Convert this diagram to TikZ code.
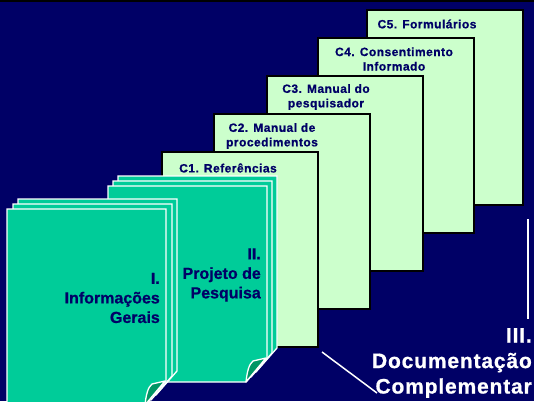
\documentclass[tikz,border=0pt]{standalone}
\usepackage{fontspec}
\setmainfont{Liberation Sans}
\newfontfamily\abold{Liberation Sans Bold}[FakeBold=0.8]
\newfontfamily\aboldsp{Liberation Sans Bold}[FakeBold=0.8,LetterSpace=4]
\definecolor{bgnavy}{RGB}{0,0,102}
\definecolor{lgreen}{RGB}{204,255,204}
\definecolor{tealA}{RGB}{0,204,153}
\definecolor{tealD}{RGB}{0,150,100}
\definecolor{navytext}{RGB}{0,0,102}
\tikzset{
  cbox/.style={draw=black, line width=1.6pt, fill=lgreen, minimum width=156pt,
    minimum height=195pt, anchor=north west, inner sep=0pt, outer sep=0pt},
  ctext/.style={font=\aboldsp\fontsize{12}{14.5}\selectfont, text=navytext, align=center, inner sep=0pt},
  sheet/.style={draw=white, line width=1.3pt, fill=tealA, line join=miter},
  flap/.style={draw=white, line width=1.3pt, fill=tealD, line join=round},
  doctext/.style={font=\abold\fontsize{16}{19.5}\selectfont, text=navytext, align=right, inner sep=0pt, anchor=east},
  bigtext/.style={font=\aboldsp\fontsize{21}{25.5}\selectfont, text=white, align=right, inner sep=0pt, anchor=east},
  wline/.style={draw=white, line width=1.5pt}
}
\newcommand\docsheet[2]{%
  \draw[sheet] (#1,#2) -- ++(159,0) -- ++(0,172) -- ++(-21,24) -- ++(-138,0) -- cycle;}
\newcommand\docflap[2]{%
  \draw[flap] (#1+138,#2+196) .. controls (#1+139,#2+186) and (#1+141,#2+178) .. (#1+145,#2+175) -- (#1+158,#2+172) -- cycle;}
\begin{document}
\begin{tikzpicture}[x=1pt,y=-1pt]
\useasboundingbox (0,0) rectangle (534,401);
\fill[bgnavy] (0,0) rectangle (534,401);
\fill[black] (0,0) rectangle (534,2);
% C boxes
\node[cbox] (c5) at (367,10) {};
\node[ctext] (t5) at (427,24) {C5. Formulários};
\node[cbox] (c4) at (318,38) {};
\node[ctext] (t4) at (394,59) {C4. Consentimento\\Informado};
\node[cbox] (c3) at (267,76) {};
\node[ctext] (t3) at (326,97) {C3. Manual do\\pesquisador};
\node[cbox] (c2) at (214,114) {};
\node[ctext] (t2) at (272,136) {C2. Manual de\\procedimentos};
\node[cbox] (c1) at (162,152) {};
\node[ctext] (t1) at (228,168) {C1. Referências};
% stack II
\docsheet{118}{176}
\docsheet{113}{181}
\docsheet{108}{186}
\docflap{108}{186}
\node[doctext] (s2) at (261,275) {II.\\Projeto de\\Pesquisa};
% stack I
\docsheet{18}{199}
\docsheet{13}{204}
\docsheet{7}{209}
\docflap{7}{209}
\node[doctext] (s1) at (160,298) {I.\\Informações\\Gerais};
% III label
\node[bigtext] (s3) at (532,363) {III.\\Documentação\\Complementar};
\coordinate (v1) at (528,219);
\coordinate (v2) at (528,319);
\coordinate (d1) at (322,352);
\coordinate (d2) at (377,393);
\draw[wline] (v1) -- (v2);
\draw[wline] (d1) -- (d2);
\end{tikzpicture}
\end{document}
